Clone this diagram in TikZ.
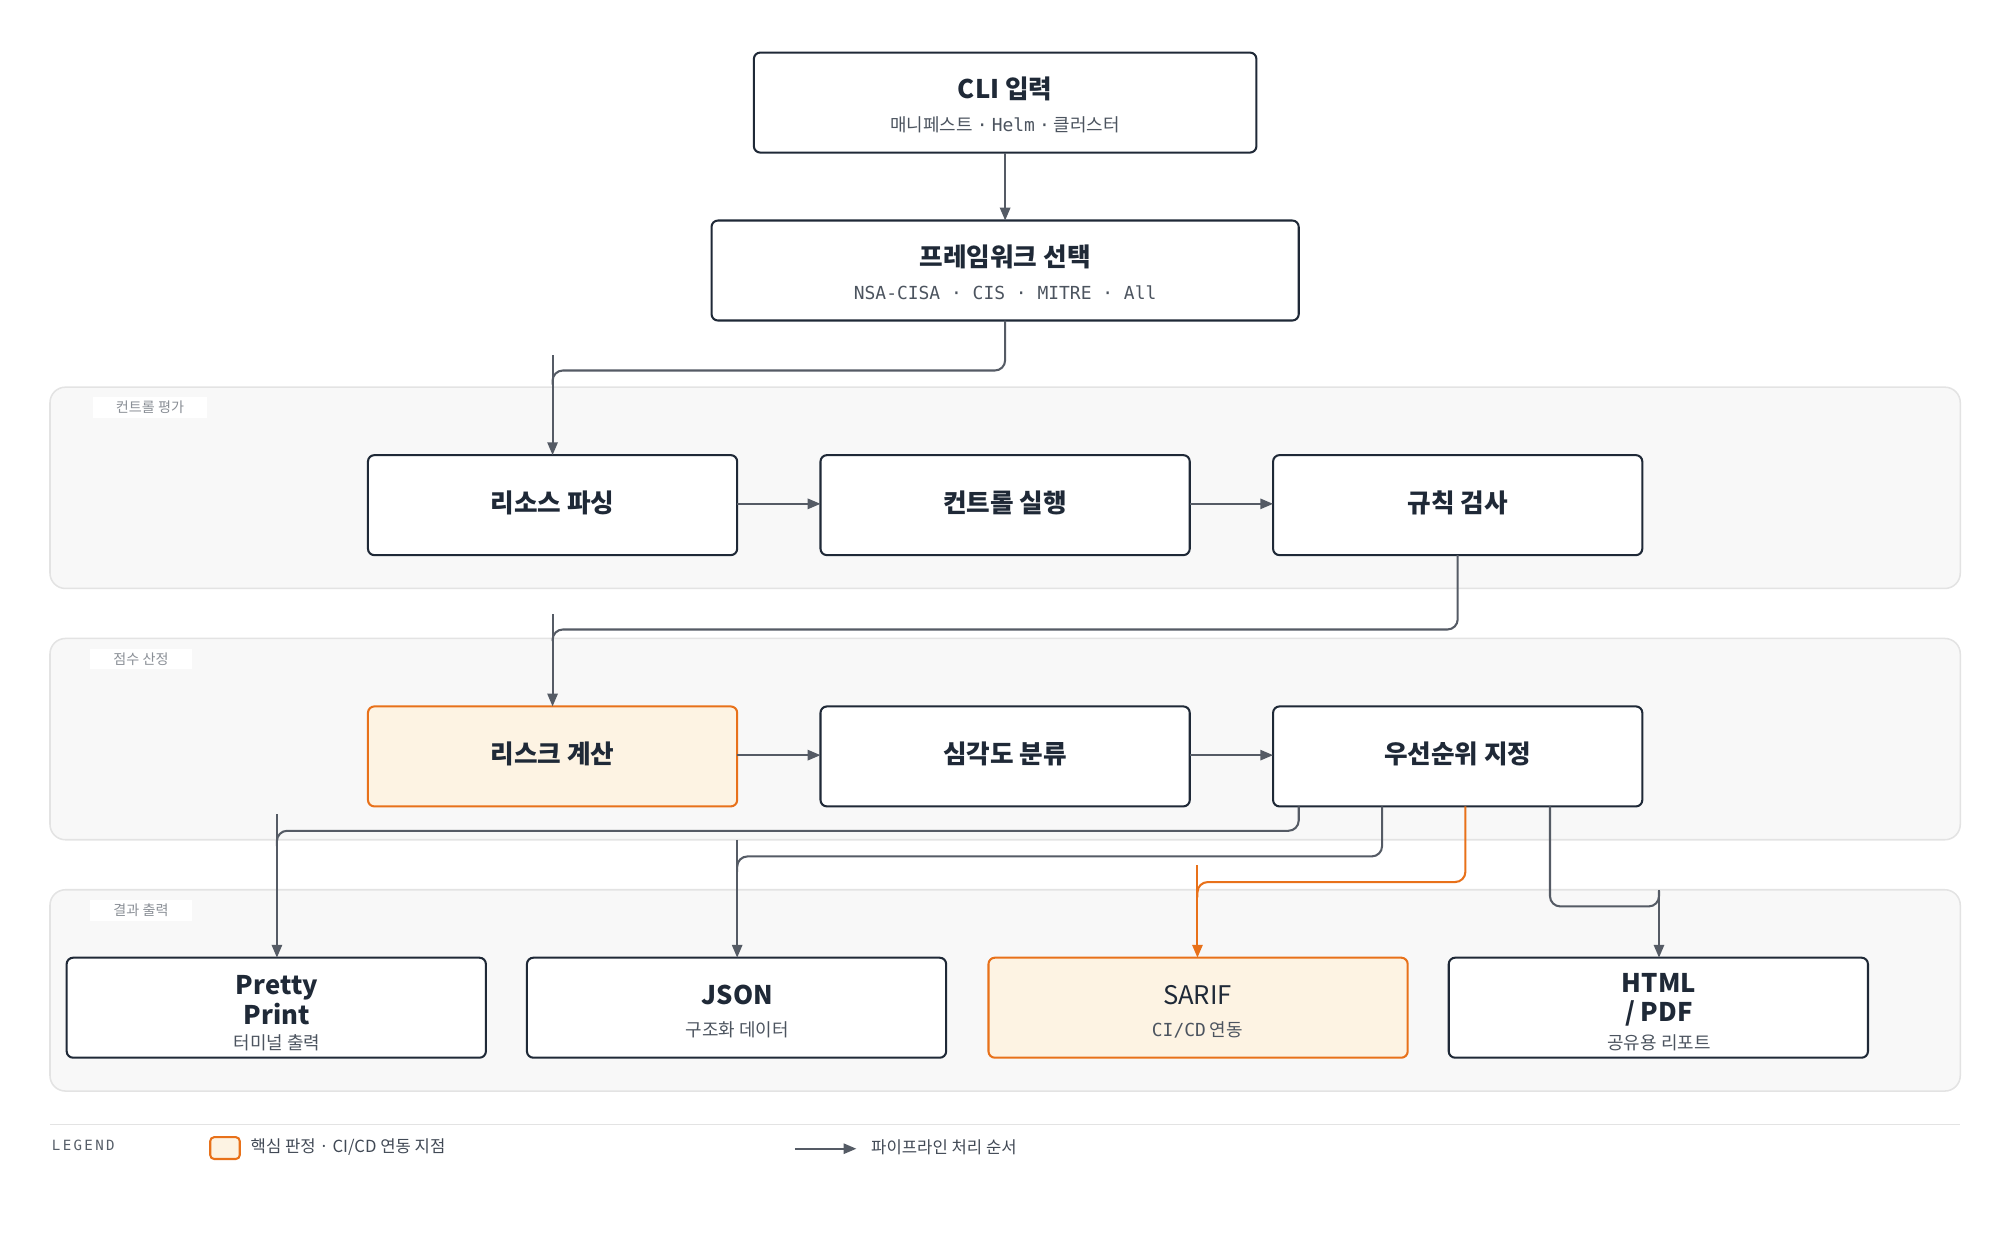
\documentclass[tikz,border=0pt]{standalone}
\usepackage{fontspec}
\setmainfont{Noto Sans CJK KR}
\newfontfamily\cjk{Noto Sans CJK KR}
\newfontfamily\mono{DejaVu Sans Mono}
\usetikzlibrary{arrows.meta}
\definecolor{ink}{HTML}{1F2937}
\definecolor{con}{HTML}{555B65}
\definecolor{org}{HTML}{E8711A}
\definecolor{orgf}{HTML}{FDF3E3}
\definecolor{panel}{HTML}{F8F8F8}
\definecolor{pline}{HTML}{E3E3E3}
\definecolor{lab}{HTML}{8A8F96}
\begin{document}
\begin{tikzpicture}[x=1pt,y=-1pt,
 box/.style={draw=ink,line width=1.6pt,rounded corners=5pt,fill=white,inner sep=0pt},
 hot/.style={box,draw=org,fill=orgf},
 ttl/.style={font=\fontsize{20}{24}\selectfont\bfseries,text=ink},
 sub/.style={font=\fontsize{14}{16}\selectfont,text=ink!80},
 pnl/.style={draw=pline,line width=1.2pt,fill=panel,rounded corners=12pt},
 plab/.style={fill=white,font=\fontsize{11}{13}\selectfont,text=lab,inner xsep=18pt,inner ysep=3pt},
 ar/.style={draw=con,line width=1.6pt,-{Triangle[length=10pt,width=8pt]}},
 ln/.style={draw=con,line width=1.6pt,rounded corners=8pt},
 oar/.style={ar,draw=org,-{Triangle[length=10pt,width=8pt,fill=org]}},
 oln/.style={ln,draw=org}]
\useasboundingbox (0,0) rectangle (1560,977);
% panels
\draw[pnl] (39,302) rectangle (1529,459);
\draw[pnl] (39,498) rectangle (1529,655);
\draw[pnl] (39,694) rectangle (1529,851);
\node[plab] (pl1) at (117,318) {컨트롤 평가};
\node[plab] (pl2) at (110,514) {점수 산정};
\node[plab] (pl3) at (110,710) {결과 출력};
% top boxes
\draw[box] (588,41) rectangle (980,119);
\coordinate (cliS) at (784,119);
\node[ttl] (cli) at (784,69) {CLI 입력};
\node[sub] (clis) at (784,97) {매니페스트 {\mono ·} {\mono Helm} {\mono ·} 클러스터};
\draw[box] (555,172) rectangle (1013,250);
\coordinate (fwN) at (784,172); \coordinate (fwS) at (784,250);
\node[ttl] (fw) at (784,200) {프레임워크 선택};
\node[sub] (fws) at (784,228) {\mono NSA-CISA · CIS · MITRE · All};
% row 1
\draw[box] (287,355) rectangle (575,433);
\draw[box] (640,355) rectangle (928,433);
\draw[box] (993,355) rectangle (1281,433);
\node[ttl] (rp) at (431,392) {리소스 파싱};
\node[ttl] (cr) at (784,392) {컨트롤 실행};
\node[ttl] (rc) at (1137,392) {규칙 검사};
% row 2
\draw[hot] (287,551) rectangle (575,629);
\draw[box] (640,551) rectangle (928,629);
\draw[box] (993,551) rectangle (1281,629);
\node[ttl] (rk) at (431,588) {리스크 계산};
\node[ttl] (sv) at (784,588) {심각도 분류};
\node[ttl] (pr) at (1137,588) {우선순위 지정};
% row 3
\draw[box] (52,747) rectangle (379,825);
\draw[box] (411,747) rectangle (738,825);
\draw[hot] (771,747) rectangle (1098,825);
\draw[box] (1130,747) rectangle (1457,825);
\node[ttl,align=center,font=\fontsize{20}{23}\selectfont\bfseries] (pp) at (216,780) {Pretty\\Print};
\node[sub] (pps) at (216,813) {터미널 출력};
\node[ttl] (js) at (575,776) {JSON};
\node[sub] (jss) at (575,803) {구조화 데이터};
\node[ttl,font=\fontsize{20}{24}\selectfont] (sa) at (934,776) {SARIF};
\node[sub] (sas) at (934,803) {{\mono CI/CD} 연동};
\node[ttl,align=center,font=\fontsize{20}{23}\selectfont\bfseries] (ht) at (1294,780) {HTML\\/ PDF};
\node[sub] (hts) at (1294,813) {공유용 리포트};
% connectors
\draw[ar] (cliS) -- (fwN);
\draw[ln] (fwS) -- (784,289) -- (431,289) -- (431,300);
\draw[ar] (431,277) -- (431,355);
\draw[ar] (575,393) -- (640,393);
\draw[ar] (928,393) -- (993,393);
\draw[ln] (1137,433) -- (1137,491) -- (431,491) -- (431,500);
\draw[ar] (431,479) -- (431,551);
\draw[ar] (575,589) -- (640,589);
\draw[ar] (928,589) -- (993,589);
\draw[ln] (1013,629) -- (1013,648) -- (216,648) -- (216,660);
\draw[ar] (216,635) -- (216,747);
\draw[ln] (1078,629) -- (1078,668) -- (575,668) -- (575,680);
\draw[ar] (575,655) -- (575,747);
\draw[oln] (1143,629) -- (1143,688) -- (934,688) -- (934,700);
\draw[oar] (934,675) -- (934,747);
\draw[ln] (1209,629) -- (1209,707) -- (1294,707) -- (1294,695);
\draw[ar] (1294,694) -- (1294,747);
% legend
\draw[pline,line width=1.2pt] (39,877) -- (1529,877);
\node[anchor=west,font=\mono\fontsize{11}{13}\selectfont,text=ink!75] (lg) at (37,893) {L\,E\,G\,E\,N\,D};
\draw[org,line width=1.6pt,fill=orgf,rounded corners=3pt] (164,887) rectangle (187,904);
\node[anchor=west,font=\fontsize{13}{15}\selectfont,text=ink!85] (l1) at (192,895) {핵심 판정 · CI/CD 연동 지점};
\coordinate (la) at (620,896); \coordinate (lb) at (668,896);
\draw[ar] (la) -- (lb);
\node[anchor=west,font=\fontsize{13}{15}\selectfont,text=ink!85] (l2) at (676,895) {파이프라인 처리 순서};
\end{tikzpicture}
\end{document}
